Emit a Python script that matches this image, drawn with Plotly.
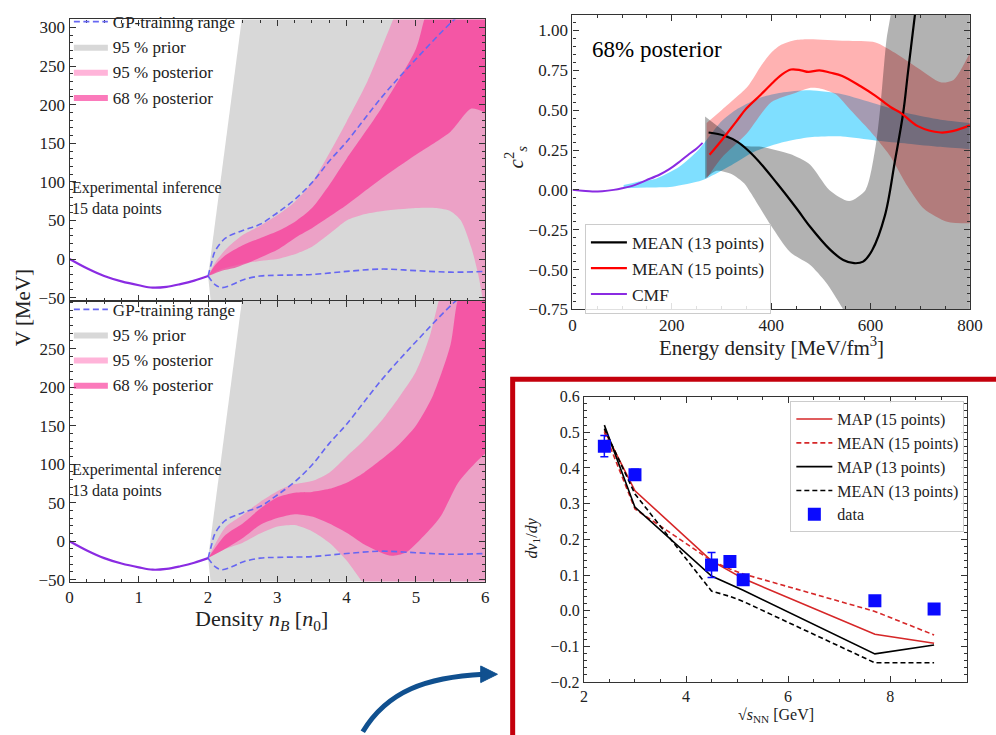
import plotly.graph_objects as go

W, H = 996, 735
SERIF = "Liberation Serif"

# ---------------- V(n_B) panels ----------------
n_cmf = [0.0, 0.25, 0.5, 0.75, 1.0, 1.2, 1.4, 1.6, 1.8, 2.0]
v_cmf = [0.0, -12.0, -22.0, -29.0, -34.0, -37.0, -36.0, -32.5, -28.0, -22.0]

# GP-training range (same in both panels)
n_gp_up = [2.0, 2.05, 2.1, 2.25, 2.5, 2.75, 3.0, 3.25, 3.5, 3.75, 4.0, 4.5, 5.0, 5.55, 6.0]
v_gp_up = [-22, -5, 10, 27, 37, 45, 60, 77, 99, 127, 152, 209, 259, 310, 345]
n_gp_lo = [2.0, 2.1, 2.2, 2.35, 2.5, 2.75, 3.0, 3.5, 4.0, 4.5, 5.0, 5.5, 6.0]
v_gp_lo = [-22, -33, -37, -33, -27, -22, -21, -20, -16, -13, -15, -17, -16]

# 95 % prior envelope
n_prior_up = [2.0, 2.5, 6.0]
v_prior_up = [-22, 320, 320]
n_prior_lo = [2.0, 2.045, 6.0]
v_prior_lo = [-22, -60, -60]

# 15 data points
n95_15_up = [2.0, 2.1, 2.25, 2.5, 2.75, 3.0, 3.25, 3.5, 3.75, 4.0, 4.3, 4.67, 4.8, 6.0]
v95_15_up = [-22, -5, 12, 31, 43, 57, 74, 99, 137, 178, 230, 310, 340, 420]
n95_15_lo = [2.0, 2.2, 2.5, 2.8, 3.0, 3.3, 3.5, 3.77, 4.0, 4.25, 4.5, 5.0, 5.3, 5.5, 5.65, 5.8, 5.9, 6.0]
v95_15_lo = [-22, -13, -6, -2, 0, 8, 16, 34, 50, 58, 62, 66, 66, 62, 50, 15, -20, -70]
n68_15_up = [2.0, 2.1, 2.25, 2.5, 2.75, 3.0, 3.25, 3.5, 3.75, 4.0, 4.5, 5.0, 5.12, 5.3, 6.0]
v68_15_up = [-22, -8, 5, 18, 27, 36, 48, 66, 96, 130, 195, 272, 310, 360, 420]
n68_15_lo = [2.0, 2.2, 2.36, 2.6, 2.83, 3.0, 3.3, 3.5, 3.77, 4.0, 4.5, 5.0, 5.5, 5.8, 6.0]
v68_15_lo = [-22, -15, -12, -4, 5, 12, 30, 40, 56, 70, 104, 135, 165, 195, 190]

# 13 data points
n95_13_up = [2.0, 2.25, 2.5, 2.75, 3.0, 3.2, 3.5, 3.75, 4.0, 4.25, 4.5, 4.75, 5.0, 5.2, 5.33, 5.5, 6.0]
v95_13_up = [-22, 18, 34, 51, 65, 73, 78, 89, 110, 131, 156, 186, 220, 266, 312, 360, 420]
n95_13_lo = [2.0, 2.25, 2.5, 2.75, 3.0, 3.25, 3.5, 3.75, 4.0, 4.23, 4.5, 6.0]
v95_13_lo = [-22, -10, -2, 10, 19, 21, 13, -2, -25, -53, -80, -80]
n68_13_up = [2.0, 2.25, 2.5, 2.75, 3.0, 3.25, 3.5, 3.75, 4.0, 4.25, 4.5, 4.75, 5.0, 5.25, 5.5, 5.6, 6.0]
v68_13_up = [-22, 8, 23, 42, 57, 63, 64, 68, 76, 89, 106, 125, 150, 190, 255, 312, 420]
n68_13_lo = [2.0, 2.25, 2.5, 2.75, 3.0, 3.25, 3.5, 3.75, 4.0, 4.25, 4.5, 4.65, 4.85, 5.04, 5.25, 5.37, 5.61, 5.85, 6.0]
v68_13_lo = [-22, -10, 4, 21, 30, 35, 32, 23, 11, -4, -15, -19, -15, 0, 20, 34, 76, 101, 114]

# ---------------- speed of sound panel ----------------
e_cmf = [0, 20, 40, 60, 83, 100, 125, 148, 175, 195, 215, 235, 250, 262]
cs_cmf = [0.0, -0.005, -0.01, -0.008, 0.0, 0.01, 0.03, 0.06, 0.095, 0.13, 0.175, 0.225, 0.26, 0.295]

e_blue_up = [103, 130, 168, 215, 255, 300, 333, 379, 420, 478, 543, 610, 675, 741, 800]
cs_blue_up = [0.03, 0.05, 0.07, 0.145, 0.255, 0.43, 0.51, 0.58, 0.61, 0.625, 0.60, 0.54, 0.48, 0.44, 0.42]
e_blue_lo = [103, 150, 201, 261, 314, 366, 425, 478, 543, 610, 675, 741, 800]
cs_blue_lo = [0.01, 0.015, 0.02, 0.06, 0.145, 0.24, 0.30, 0.33, 0.335, 0.31, 0.29, 0.27, 0.255]

e_red_up = [270, 300, 353, 380, 400, 420, 450, 478, 550, 610, 649, 695, 741, 767, 800]
cs_red_up = [0.42, 0.50, 0.65, 0.78, 0.86, 0.91, 0.94, 0.945, 0.935, 0.925, 0.86, 0.765, 0.675, 0.69, 0.86]
e_red_lo = [270, 300, 350, 400, 450, 480, 500, 530, 560, 590, 615, 640, 675, 708, 754, 800]
cs_red_lo = [0.07, 0.20, 0.35, 0.55, 0.61, 0.64, 0.635, 0.60, 0.50, 0.40, 0.31, 0.21, 0.02, -0.12, -0.20, -0.21]

e_gray_up = [267, 300, 340, 380, 438, 478, 517, 557, 590, 610, 620, 632, 640, 650, 800]
cs_gray_up = [0.46, 0.38, 0.28, 0.27, 0.225, 0.16, 0.0, -0.07, 0.0, 0.27, 0.53, 0.94, 1.09, 1.3, 1.3]
e_gray_lo = [267, 290, 320, 346, 359, 399, 438, 478, 510, 543, 570, 800]
cs_gray_lo = [0.07, 0.12, 0.10, 0.04, -0.02, -0.22, -0.39, -0.47, -0.58, -0.74, -0.9, -0.9]

e_mean13 = [274, 306, 333, 366, 412, 452, 478, 517, 545, 567, 585, 603, 629, 649, 666, 675, 689, 695]
cs_mean13 = [0.36, 0.34, 0.30, 0.21, 0.04, -0.12, -0.23, -0.37, -0.44, -0.46, -0.45, -0.38, -0.16, 0.18, 0.49, 0.73, 1.09, 1.25]
e_mean15 = [276, 300, 330, 350, 380, 399, 420, 440, 460, 475, 497, 520, 543, 580, 610, 640, 662, 695, 741, 767, 800]
cs_mean15 = [0.22, 0.31, 0.43, 0.51, 0.60, 0.66, 0.72, 0.755, 0.75, 0.74, 0.75, 0.735, 0.715, 0.65, 0.59, 0.52, 0.48, 0.40, 0.36, 0.37, 0.405]

# ---------------- dv1/dy panel ----------------
sqrt_s = [2.4, 3.0, 4.5, 4.86, 5.12, 7.7, 8.86]
dv_data = [0.461, 0.381, 0.128, 0.138, 0.087, 0.028, 0.005]
dv_err = [0.03, 0.015, 0.035, 0.012, 0.008, 0.004, 0.004]
dv_map15 = [0.505, 0.336, 0.14, 0.112, 0.09, -0.066, -0.091]
dv_mean15 = [0.50, 0.285, 0.14, 0.117, 0.103, -0.002, -0.068]
dv_map13 = [0.52, 0.29, 0.097, 0.075, 0.057, -0.121, -0.096]
dv_mean13 = [0.51, 0.327, 0.055, 0.04, 0.026, -0.146, -0.146]

# ---------------- styles ----------------
C_PRIOR = "#d8d8d8"
C_95 = "rgba(255,105,180,0.5)"
C_68 = "rgba(248,40,145,0.62)"
C_CMF = "#8a2be2"
C_GP = "#6666f2"

fig = go.Figure()


def add_band(xl, yl, xu, yu, color, xa, ya, name=None, legend=None, rank=None, smooth=0.7):
    fig.add_trace(go.Scatter(x=xl, y=yl, mode="lines", line=dict(width=0, shape="spline", smoothing=smooth),
                             xaxis=xa, yaxis=ya, showlegend=False, hoverinfo="skip"))
    fig.add_trace(go.Scatter(x=xu, y=yu, mode="lines", fill="tonexty", fillcolor=color,
                             line=dict(width=0, shape="spline", smoothing=smooth),
                             xaxis=xa, yaxis=ya, name=name, showlegend=name is not None,
                             legend=legend, legendrank=rank, hoverinfo="skip"))


def potential_panel(xa, ya, legend, b95, b68):
    fig.add_trace(go.Scatter(x=n_prior_lo, y=v_prior_lo, mode="lines", line=dict(width=0),
                             xaxis=xa, yaxis=ya, showlegend=False, hoverinfo="skip"))
    fig.add_trace(go.Scatter(x=n_prior_up, y=v_prior_up, mode="lines", fill="tonexty", fillcolor=C_PRIOR,
                             line=dict(width=0), xaxis=xa, yaxis=ya, name="95 % prior",
                             legend=legend, legendrank=2, hoverinfo="skip"))
    add_band(b95[2], b95[3], b95[0], b95[1], C_95, xa, ya, "95 % posterior", legend, 3)
    add_band(b68[2], b68[3], b68[0], b68[1], C_68, xa, ya, "68 % posterior", legend, 4)
    fig.add_trace(go.Scatter(x=n_gp_up, y=v_gp_up, mode="lines",
                             line=dict(color=C_GP, width=1.6, dash="6px,3.5px", shape="spline"),
                             xaxis=xa, yaxis=ya, name="GP-training range", legend=legend, legendrank=1))
    fig.add_trace(go.Scatter(x=n_gp_lo, y=v_gp_lo, mode="lines",
                             line=dict(color=C_GP, width=1.6, dash="6px,3.5px", shape="spline"),
                             xaxis=xa, yaxis=ya, showlegend=False))
    fig.add_trace(go.Scatter(x=n_cmf, y=v_cmf, mode="lines", line=dict(color=C_CMF, width=2.2, shape="spline"),
                             xaxis=xa, yaxis=ya, showlegend=False))


potential_panel("x", "y", "legend", (n95_15_up, v95_15_up, n95_15_lo, v95_15_lo),
                (n68_15_up, v68_15_up, n68_15_lo, v68_15_lo))
potential_panel("x2", "y2", "legend2", (n95_13_up, v95_13_up, n95_13_lo, v95_13_lo),
                (n68_13_up, v68_13_up, n68_13_lo, v68_13_lo))

# speed of sound bands and means
add_band(e_blue_lo, cs_blue_lo, e_blue_up, cs_blue_up, "rgba(0,191,255,0.5)", "x3", "y3")
add_band(e_red_lo, cs_red_lo, e_red_up, cs_red_up, "rgba(255,0,0,0.3)", "x3", "y3")
add_band(e_gray_lo, cs_gray_lo, e_gray_up, cs_gray_up, "rgba(0,0,0,0.3)", "x3", "y3")
fig.add_trace(go.Scatter(x=e_mean13, y=cs_mean13, mode="lines", name="MEAN (13 points)",
                         line=dict(color="black", width=2.2, shape="spline"), xaxis="x3", yaxis="y3", legend="legend3"))
fig.add_trace(go.Scatter(x=e_mean15, y=cs_mean15, mode="lines", name="MEAN (15 points)",
                         line=dict(color="#ff0000", width=2.2, shape="spline"), xaxis="x3", yaxis="y3", legend="legend3"))
fig.add_trace(go.Scatter(x=e_cmf, y=cs_cmf, mode="lines", name="CMF",
                         line=dict(color=C_CMF, width=2.0, shape="spline"), xaxis="x3", yaxis="y3", legend="legend3"))

# dv1/dy
for yv, name, col, dash in [(dv_map15, "MAP (15 points)", "#d62728", "solid"),
                            (dv_mean15, "MEAN (15 points)", "#d62728", "5px,3px"),
                            (dv_map13, "MAP (13 points)", "black", "solid"),
                            (dv_mean13, "MEAN (13 points)", "black", "5px,3px")]:
    fig.add_trace(go.Scatter(x=sqrt_s, y=yv, mode="lines", name=name, line=dict(color=col, width=1.6, dash=dash),
                             xaxis="x4", yaxis="y4", legend="legend4"))
fig.add_trace(go.Scatter(x=sqrt_s, y=dv_data, mode="markers", name="data",
                         marker=dict(symbol="square", size=13, color="#0a0aff"),
                         error_y=dict(type="data", array=dv_err, color="#0a0aff", thickness=1.5, width=4),
                         xaxis="x4", yaxis="y4", legend="legend4"))


# ---------------- layout ----------------
def dom_x(a, b):
    return [a / W, b / W]


def dom_y(top, bottom):
    return [1 - bottom / H, 1 - top / H]


def axis(domain, rng, dtick, minor, anchor, labels=True, tickvals=None, fmt=None, size=16):
    d = dict(domain=domain, range=rng, anchor=anchor, showline=True, linecolor="#333", linewidth=1.2,
             mirror="allticks", ticks="inside", ticklen=6, tickwidth=1, tickcolor="#333",
             minor=dict(ticks="inside", dtick=minor, ticklen=3, tickcolor="#333"),
             showgrid=False, zeroline=False, showticklabels=labels,
             tickfont=dict(family=SERIF, size=size, color="#222"))
    if tickvals is not None:
        d["tickvals"] = tickvals
    else:
        d["dtick"] = dtick
        d["tick0"] = 0
    if fmt:
        d["tickformat"] = fmt
    return d


LX = dom_x(66.7, 489.5)
fig.update_layout(
    width=W, height=H, margin=dict(l=0, r=0, t=0, b=0),
    paper_bgcolor="white", plot_bgcolor="white",
    font=dict(family=SERIF, color="#222"),
    xaxis=axis(LX, [0, 6], 1, 0.25, "y", labels=False),
    yaxis=axis(dom_y(11.7, 300), [-53.9, 310.5], 50, 10, "x", size=17),
    xaxis2=axis(LX, [0, 6], 1, 0.25, "y2", size=17),
    yaxis2=axis(dom_y(300, 588), [-52.5, 312.4], None, 10, "x2", tickvals=[-50, 0, 50, 100, 150, 200, 250], size=17),
    xaxis3=axis(dom_x(578.3, 982.7), [0, 800], 200, 50, "y3", size=17),
    yaxis3=axis(dom_y(6.7, 309), [-0.75, 1.10], 0.25, 0.05, "x3", fmt=".2f", size=17),
    xaxis4=axis(dom_x(590, 980), [2, 9.51], 2, 0.5, "y4", size=16),
    yaxis4=axis(dom_y(398.3, 691), [-0.2, 0.6], 0.1, 0.02, "x4", fmt=".1f", size=16),
)

leg_common = dict(xanchor="left", yanchor="top", bgcolor="rgba(255,255,255,0)", itemwidth=34,
                  font=dict(family=SERIF, size=17, color="#222"), traceorder="normal")
fig.update_layout(
    legend=dict(x=66 / W, y=1 + 4 / H, **leg_common),
    legend2=dict(x=66 / W, y=1 - 291 / H, **leg_common),
    legend3=dict(x=591 / W, y=1 - 221 / H, xanchor="left", yanchor="top", bgcolor="rgba(255,255,255,0.85)",
                 bordercolor="#cccccc", borderwidth=1, itemwidth=36,
                 font=dict(family=SERIF, size=17.5, color="#222")),
    legend4=dict(x=800 / W, y=1 - 403 / H, xanchor="left", yanchor="top", bgcolor="rgba(255,255,255,0.85)",
                 bordercolor="#cccccc", borderwidth=1, itemwidth=36,
                 font=dict(family=SERIF, size=16, color="#222")),
)


def P(x, y):
    return x / W, 1 - y / H


def note(text, x, y, size, xanchor="center", yanchor="middle", angle=0, color="#222", align="center"):
    px_, py_ = P(x, y)
    fig.add_annotation(text=text, x=px_, y=py_, xref="paper", yref="paper", showarrow=False,
                       xanchor=xanchor, yanchor=yanchor, textangle=angle, align=align,
                       font=dict(family=SERIF, size=size, color=color))


note("Experimental inference<br>15 data points", 67, 173, 16, xanchor="left", yanchor="top", align="left")
note("Experimental inference<br>13 data points", 67, 462, 16, xanchor="left", yanchor="top", align="left")
note("V [MeV]", 20, 307, 21, angle=-90)
note("Density <i>n</i><sub><i>B</i></sub> [<i>n</i><sub>0</sub>]", 262, 627, 22)
note("68% posterior", 596, 43, 23, xanchor="left", color="black")
note("Energy density [MeV/fm<sup>3</sup>]", 781, 347, 21)
note("<i>c</i><sup>2</sup><sub><i>s</i></sub>", 520, 153, 21, angle=-90)
note("√<i>s</i><sub>NN</sub> [GeV]", 785, 725, 16)
note("<i>dv</i><sub>1</sub>/<i>dy</i>", 538, 543, 16, angle=-90)

# framed inset and curved arrow pointing to it
x0, y0 = P(517.5, 380.5)
fig.add_shape(type="rect", xref="paper", yref="paper", x0=x0, y0=y0, x1=1.02, y1=-0.02,
              line=dict(color="#c4000c", width=5), layer="above")


def path(points, cmd):
    parts = []
    for c, pts in zip(cmd, points):
        parts.append(c + " " + " ".join(f"{P(x, y)[0]:.5f},{P(x, y)[1]:.5f}" for x, y in pts))
    return " ".join(parts)


fig.add_shape(type="path", xref="paper", yref="paper",
              path=path([[(365, 742)], [(390, 700), (430, 686), (488, 683)]], ["M", "C"]),
              line=dict(color="#10508f", width=5), layer="above")
fig.add_shape(type="path", xref="paper", yref="paper",
              path=path([[(485, 674.5)], [(502, 683)], [(485, 691.5)]], ["M", "L", "L"]) + " Z",
              line=dict(color="#10508f", width=1), fillcolor="#10508f", layer="above")

fig.write_html("out.html")
